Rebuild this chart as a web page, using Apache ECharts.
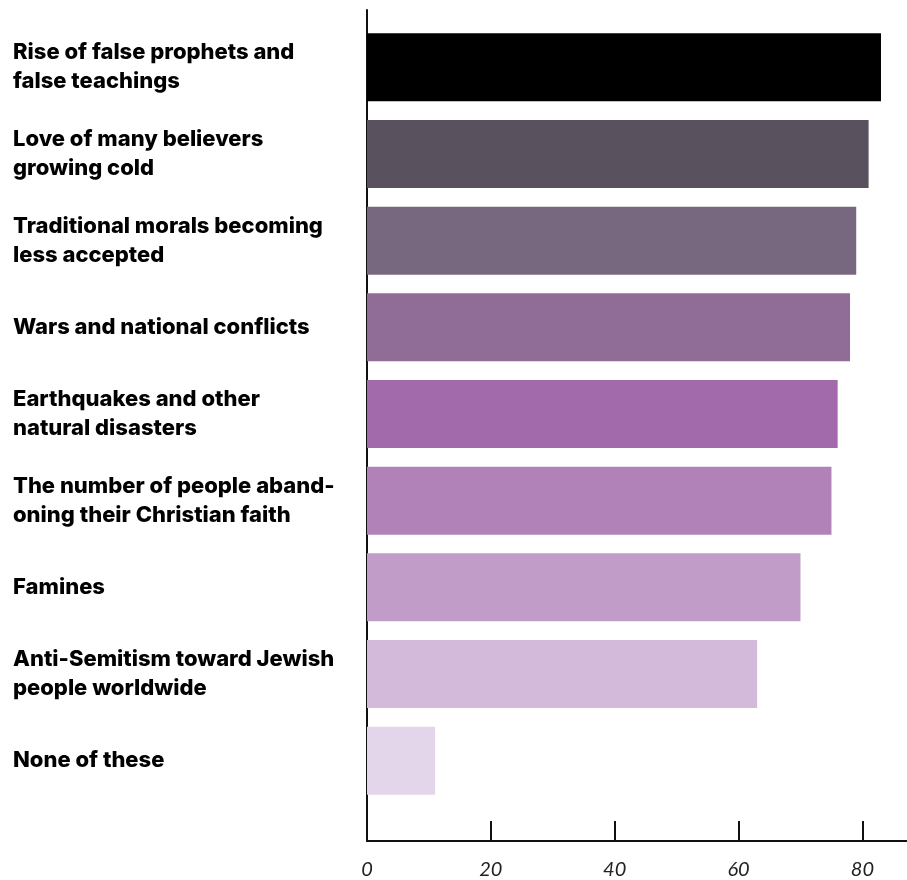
<!DOCTYPE html>
<html>
<head>
	<meta charset="utf-8">
	<title>chart</title>
	<script src="https://cdn.jsdelivr.net/npm/echarts@6/dist/echarts.min.js"></script>
	<style>
		html,body{margin:0;padding:0;background:#fff;}
		#main{width:907px;height:880px;}
	</style>
</head>
<body>
	<div id="main"></div>
<script type="text/javascript">
// 类别（从上到下）
var categories = [
    "Rise of false prophets and\nfalse teachings",
    "Love of many believers\ngrowing cold",
    "Traditional morals becoming\nless accepted",
    "Wars and national conflicts",
    "Earthquakes and other\nnatural disasters",
    "The number of people aband-\noning their Christian faith",
    "Famines",
    "Anti-Semitism toward Jewish\npeople worldwide",
    "None of these"
];
var values = [83, 81, 79, 78, 76, 75, 70, 63, 11];
var barColors = ["#000000", "#5a515e", "#78687f", "#8f6d96", "#a36aab", "#b182b8", "#c19cc8", "#d3b9da", "#e4d6ea"];
var tickValues = [0, 20, 40, 60, 80];

var xMax = 87.2;

var myChart = echarts.init(document.getElementById('main'));

var option = {
    animation: false,
    grid: [
        // 柱子所在的网格
        {left: 367, right: 0, top: 24, height: 780},
        // 坐标轴网格（轴线比柱子区域更长）
        {left: 367, right: 0, top: 10, bottom: 38}
    ],
    xAxis: [
        {gridIndex: 0, type: 'value', min: 0, max: xMax, show: false},
        {
            gridIndex: 1, type: 'value', min: 0, max: xMax, interval: 20,
            axisLine: {show: true, lineStyle: {color: '#111', width: 2}},
            axisTick: {show: true, inside: true, length: 20, lineStyle: {color: '#111', width: 2}, customValues: tickValues},
            axisLabel: {
                customValues: tickValues,
                margin: 19, color: '#222', fontSize: 20, fontStyle: 'italic',
                fontFamily: 'Lato'
            },
            splitLine: {show: false}
        }
    ],
    yAxis: [
        {
            gridIndex: 0, type: 'category', inverse: true, data: categories,
            axisLine: {show: false}, axisTick: {show: false},
            axisLabel: {
                align: 'left', margin: 354, color: '#000', fontSize: 22,
                fontWeight: 800, fontFamily: 'Inter', lineHeight: 29
            }
        },
        {
            gridIndex: 1, type: 'category', data: categories,
            axisLine: {show: true, lineStyle: {color: '#111', width: 2}},
            axisTick: {show: false}, axisLabel: {show: false}
        }
    ],
    series: [{
        type: 'bar',
        xAxisIndex: 0, yAxisIndex: 0,
        data: values.map(function(v, i){
            return {value: v, itemStyle: {color: barColors[i]}};
        }),
        barCategoryGap: '21.5%'
    }]
};

myChart.setOption(option);
</script>
</body>
</html>
